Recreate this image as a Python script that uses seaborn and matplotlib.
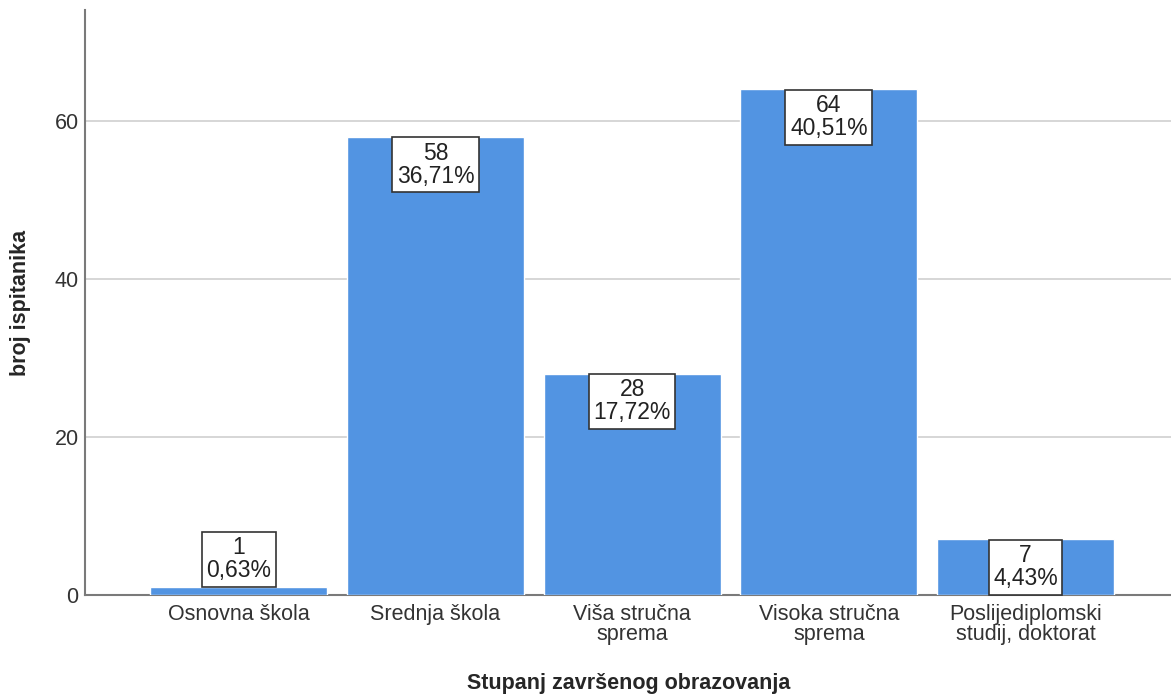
import numpy as np
import pandas as pd
import matplotlib
matplotlib.use("Agg")
import matplotlib.pyplot as plt
import seaborn as sns

# data
categories = ["Osnovna škola", "Srednja škola", "Viša stručna\nsprema",
              "Visoka stručna\nsprema", "Poslijediplomski\nstudij, doktorat"]
counts = [1, 58, 28, 64, 7]
percents = ["0,63%", "36,71%", "17,72%", "40,51%", "4,43%"]

df = pd.DataFrame({"kategorija": categories, "broj": counts})

sns.set_style("white")
plt.rcParams["font.family"] = ["Liberation Sans", "DejaVu Sans"]

fig = plt.figure(figsize=(11.71, 6.97), dpi=100)
ax = fig.add_axes([0.073, 0.147, 0.927, 0.838])

sns.barplot(data=df, x="kategorija", y="broj", color="#5294e2", saturation=1,
            width=0.9, ax=ax, zorder=3)

ax.set_ylim(0, 74)
ax.set_xlim(-0.78, 4.74)
ax.set_yticks([0, 20, 40, 60])
ax.yaxis.grid(True, color="#d0d0d0", linewidth=1.2, zorder=0)
ax.set_axisbelow(True)

for s in ["top", "right"]:
    ax.spines[s].set_visible(False)
for s in ["left", "bottom"]:
    ax.spines[s].set_color("#7a7a7a")
    ax.spines[s].set_linewidth(1.5)

ax.tick_params(axis="x", length=0, labelsize=15.5, labelcolor="#333333", pad=7)
ax.tick_params(axis="y", length=0, labelsize=15.5, labelcolor="#333333", pad=5)
for t in ax.get_xticklabels():
    t.set_linespacing(0.95)

ax.set_xlabel("Stupanj završenog obrazovanja", fontsize=15.5, fontweight="bold",
              va="center")
ax.xaxis.set_label_coords(0.5, -0.153)
ax.set_ylabel("broj ispitanika", fontsize=15.5, fontweight="bold", va="center")
ax.yaxis.set_label_coords(-0.060, 0.5)

# value labels in boxes at bar tops (box edge sits on the bar top)
for i, (c, p) in enumerate(zip(counts, percents)):
    if c < 5:
        va, dy = "bottom", 3
    else:
        va, dy = "top", -3.5
    ax.annotate(f"{c}\n{p}", xy=(i, c), xytext=(0, dy), textcoords="offset points",
                ha="center", va=va, fontsize=16.5, color="#222222",
                linespacing=1.0, zorder=5,
                bbox=dict(boxstyle="square,pad=0.2", facecolor="white",
                          edgecolor="#333333", linewidth=1.2))

fig.savefig("out.png", dpi=100)
